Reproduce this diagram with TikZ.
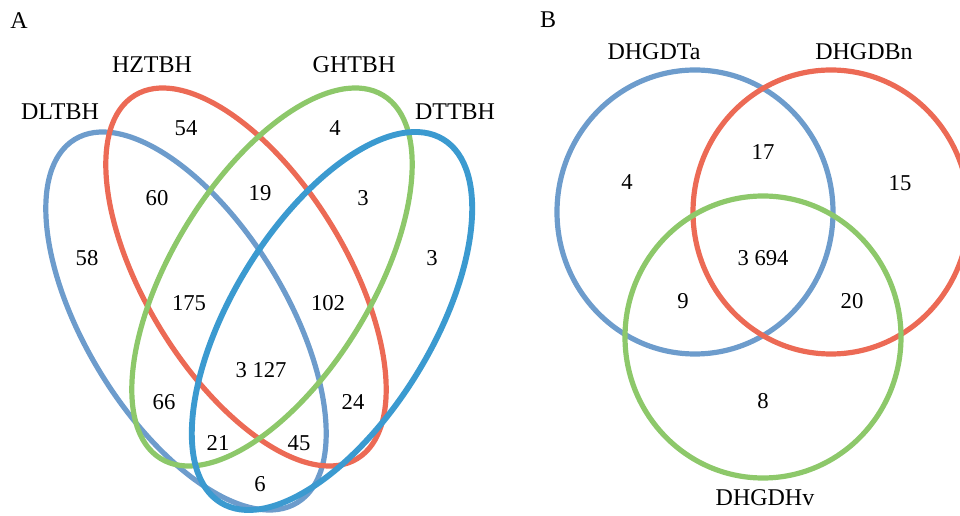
\documentclass[tikz,border=0pt]{standalone}
\usepackage{fontspec}
\setmainfont{Liberation Serif}
\begin{document}
\begin{tikzpicture}[x=0.75pt,y=-0.75pt,
  setline/.style={line width=3.9pt},
  lbl/.style={font=\fontsize{18}{21}\selectfont, inner sep=0pt},
  num/.style={font=\fontsize{17}{20}\selectfont, inner sep=0pt}]
\definecolor{cLightBlue}{HTML}{6D9CCC}
\definecolor{cRed}{HTML}{EC6A55}
\definecolor{cGreen}{HTML}{8DC86A}
\definecolor{cBlue}{HTML}{3B9AD0}
\useasboundingbox (0,0) rectangle (960,516);
\begin{scope}
\clip (0,0) rectangle (960,516);
% Panel A
\draw[setline, cLightBlue, rotate around={-58.5:(186,321)}] (186,321) ellipse [x radius=213, y radius=100];
\draw[setline, cRed, rotate around={-58.5:(246,277)}] (246,277) ellipse [x radius=213, y radius=100];
\draw[setline, cGreen, rotate around={58.5:(272,277)}] (272,277) ellipse [x radius=213, y radius=100];
\draw[setline, cBlue, line width=4.4pt, rotate around={58.5:(332,321)}] (332,321) ellipse [x radius=213, y radius=100];
% Panel B
\draw[setline, cLightBlue] (695,212) ellipse [x radius=138, y radius=142];
\draw[setline, cRed] (831,212) ellipse [x radius=138, y radius=142];
\draw[setline, cGreen] (763,337) ellipse [x radius=138, y radius=141];
\end{scope}
% Panel A texts
\node[lbl] (pA) at (19,21) {A};
\node[lbl] (lHZ) at (152,65) {HZTBH};
\node[lbl] (lGH) at (354,65) {GHTBH};
\node[lbl] (lDL) at (60,112) {DLTBH};
\node[lbl] (lDT) at (455,112) {DTTBH};
\node[num] (n54) at (186,128) {54};
\node[num] (n4) at (335,128) {4};
\node[num] (n60) at (157,198) {60};
\node[num] (n19) at (260,193) {19};
\node[num] (n3a) at (363,198) {3};
\node[num] (n58) at (87,258) {58};
\node[num] (n3b) at (432,258) {3};
\node[num] (n175) at (189,303) {175};
\node[num] (n102) at (328,303) {102};
\node[num] (n3127) at (261,370) {3 127};
\node[num] (n66) at (164,402) {66};
\node[num] (n24) at (353,402) {24};
\node[num] (n21) at (218,443) {21};
\node[num] (n45) at (299,443) {45};
\node[num] (n6) at (260,484) {6};
% Panel B texts
\node[lbl] (pB) at (548,20) {B};
\node[lbl] (lTa) at (654,52) {DHGDTa};
\node[lbl] (lBn) at (864,52) {DHGDBn};
\node[lbl] (lHv) at (765,498) {DHGDHv};
\node[num] (m4) at (627,182) {4};
\node[num] (m17) at (763,152) {17};
\node[num] (m15) at (900,183) {15};
\node[num] (m3694) at (763,258) {3 694};
\node[num] (m9) at (683,301) {9};
\node[num] (m20) at (852,301) {20};
\node[num] (m8) at (763,401) {8};
\end{tikzpicture}
\end{document}
